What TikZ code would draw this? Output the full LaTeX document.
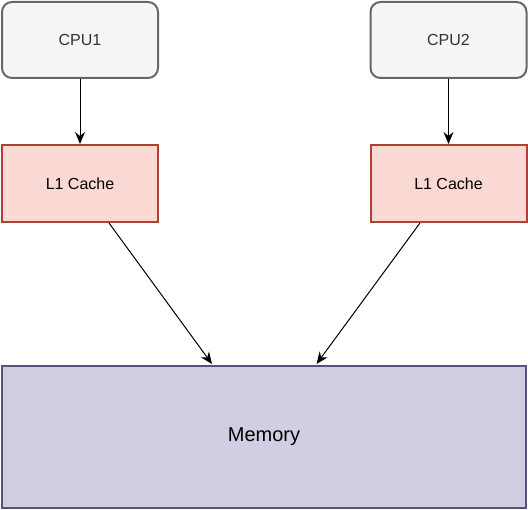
\documentclass[tikz,border=0pt]{standalone}
\usepackage{fontspec}
\setmainfont{Liberation Sans}
\usetikzlibrary{arrows.meta}
\definecolor{cpufill}{HTML}{F5F5F5}
\definecolor{cpudraw}{HTML}{666666}
\definecolor{cachefill}{HTML}{FAD9D5}
\definecolor{cachedraw}{HTML}{AE4132}
\definecolor{memfill}{HTML}{D0CEE2}
\definecolor{memdraw}{HTML}{56517E}
\definecolor{txtgray}{HTML}{333333}
\tikzset{
  cpubox/.style={draw=cpudraw, fill=cpufill, line width=1.5pt, rounded corners=7.5pt, text=txtgray,
    minimum width=117pt, minimum height=57pt, inner sep=0pt, font=\fontsize{12}{14}\selectfont},
  cachebox/.style={draw=cachedraw, fill=cachefill, line width=1.5pt,
    minimum width=117pt, minimum height=57.75pt, inner sep=0pt, font=\fontsize{12}{14}\selectfont},
  membox/.style={draw=memdraw, fill=memfill, line width=1.5pt,
    minimum width=393pt, minimum height=106.5pt, inner sep=0pt, font=\fontsize{15}{17}\selectfont},
  conn/.style={-{Stealth[length=9pt,width=7.5pt,inset=3pt]}, line width=0.75pt},
}
\begin{document}
\begin{tikzpicture}[x=0.75pt,y=-0.75pt]
\useasboundingbox (0,0) rectangle (528,510);
\node[cpubox] (cpu1) at (80,40) {CPU1};
\node[cpubox] (cpu2) at (448.5,40) {CPU2};
\node[cachebox] (l1a) at (80,183.5) {L1 Cache};
\node[cachebox] (l1b) at (448.5,183.5) {L1 Cache};
\node[membox] (mem) at (264,437) {Memory};
\draw[conn] (cpu1.south) -- (l1a.north);
\draw[conn] (cpu2.south) -- (l1b.north);
\draw[conn] ([xshift=21.75pt]l1a.south) -- ([xshift=-39pt,yshift=0.75pt]mem.north);
\draw[conn] ([xshift=-21.4pt]l1b.south) -- ([xshift=39.4pt,yshift=0.75pt]mem.north);
\end{tikzpicture}
\end{document}
